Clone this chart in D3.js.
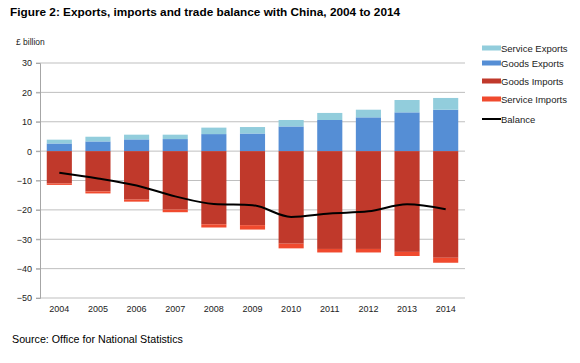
<!DOCTYPE html>
<html>
<head>
<meta charset="utf-8">
<script src="https://cdn.jsdelivr.net/npm/d3@7"></script>
<style>
  body { margin: 0; background: #fff; }
  text { font-family: "Liberation Sans", Arial, sans-serif; }
</style>
</head>
<body>
<div id="chart"></div>
<script>
// data (£ billion)
let years = ["2004", "2005", "2006", "2007", "2008", "2009", "2010", "2011", "2012", "2013", "2014"];
let goodsExports   = [2.6, 3.3, 4.0, 4.1, 5.8, 6.0, 8.4, 10.6, 11.5, 13.2, 14.1];
let serviceExports = [1.3, 1.6, 1.6, 1.5, 2.2, 2.2, 2.2, 2.4, 2.6, 4.2, 4.0];
let goodsImports   = [-11.0, -13.7, -16.5, -19.9, -24.9, -25.2, -31.5, -33.3, -33.3, -34.3, -36.3];
let serviceImports = [-0.5, -0.7, -0.7, -0.9, -1.1, -1.5, -1.6, -1.2, -1.2, -1.4, -1.7];
let balance        = [-7.4, -9.3, -11.7, -15.4, -18.0, -18.4, -22.4, -21.2, -20.5, -18.1, -19.8];
let yTicks = [30, 20, 10, 0, -10, -20, -30, -40, -50];

let colors = {
    serviceExports: "#92cddc",
    goodsExports: "#558ed5",
    goodsImports: "#c0392b",
    serviceImports: "#f04a2e",
    balance: "#000000"
};

let svgWidth = 580;
let svgHeight = 363;
let margin = { top: 63, left: 40, right: 115, bottom: 65 };

let svg = d3.select("#chart")
    .append("svg")
    .attr("width", svgWidth)
    .attr("height", svgHeight);

let xScale = d3.scaleBand()
    .domain(years)
    .range([margin.left, svgWidth - margin.right])
    .paddingInner(0.35)
    .paddingOuter(0.175);

let yScale = d3.scaleLinear()
    .domain([-50, 30])
    .range([svgHeight - margin.bottom, margin.top]);

// title
svg.append("text")
    .attr("x", 10)
    .attr("y", 16)
    .attr("font-size", "11.8px")
    .attr("font-weight", "bold")
    .attr("fill", "#000")
    .text("Figure 2: Exports, imports and trade balance with China, 2004 to 2014");

svg.append("text")
    .attr("x", 16)
    .attr("y", 45)
    .attr("font-size", "8.5px")
    .attr("fill", "#222")
    .text("£ billion");

// gridlines
svg.append("g")
    .selectAll("line")
    .data(yTicks)
    .enter()
    .append("line")
    .attr("x1", margin.left - 4)
    .attr("x2", svgWidth - margin.right)
    .attr("y1", d => yScale(d))
    .attr("y2", d => yScale(d))
    .attr("stroke", "#bfbfbf")
    .attr("stroke-width", 1);

// y axis
let yAxis = d3.axisLeft(yScale)
    .tickValues(yTicks)
    .tickSize(4)
    .tickPadding(4);

let yAxisG = svg.append("g")
    .attr("transform", `translate(${margin.left}, 0)`)
    .call(yAxis);
yAxisG.select(".domain").attr("stroke", "#a6a6a6");
yAxisG.selectAll(".tick line").attr("stroke", "#a6a6a6");
yAxisG.selectAll("text")
    .attr("font-family", "Liberation Sans, Arial, sans-serif")
    .attr("font-size", "9px")
    .attr("fill", "#222");

// x axis labels
let xAxis = d3.axisBottom(xScale).tickSize(0).tickPadding(8);
let xAxisG = svg.append("g")
    .attr("transform", `translate(0, ${yScale(-50)})`)
    .call(xAxis);
xAxisG.select(".domain").remove();
xAxisG.selectAll("text")
    .attr("font-family", "Liberation Sans, Arial, sans-serif")
    .attr("font-size", "9px")
    .attr("fill", "#222");

// stacked bars
let bars = svg.append("g");
years.forEach(function(year, i) {
    let x = xScale(year);
    let w = xScale.bandwidth();
    let g0 = goodsExports[i];
    let s0 = g0 + serviceExports[i];
    let gi = goodsImports[i];
    let si = gi + serviceImports[i];
    let segments = [
        { y0: 0, y1: g0, c: colors.goodsExports },
        { y0: g0, y1: s0, c: colors.serviceExports },
        { y0: gi, y1: 0, c: colors.goodsImports },
        { y0: si, y1: gi, c: colors.serviceImports }
    ];
    bars.selectAll(null)
        .data(segments)
        .enter()
        .append("rect")
        .attr("x", x)
        .attr("width", w)
        .attr("y", d => yScale(d.y1))
        .attr("height", d => yScale(d.y0) - yScale(d.y1))
        .attr("fill", d => d.c);
});

// balance line
let line = d3.line()
    .x((d, i) => xScale(years[i]) + xScale.bandwidth() / 2)
    .y(d => yScale(d))
    .curve(d3.curveMonotoneX);

svg.append("path")
    .datum(balance)
    .attr("d", line)
    .attr("fill", "none")
    .attr("stroke", colors.balance)
    .attr("stroke-width", 2);

// legend
let legendItems = [
    { label: "Service Exports", c: colors.serviceExports, y: 48, h: 5 },
    { label: "Goods Exports", c: colors.goodsExports, y: 63, h: 5 },
    { label: "Goods Imports", c: colors.goodsImports, y: 81, h: 5 },
    { label: "Service Imports", c: colors.serviceImports, y: 99, h: 5 },
    { label: "Balance", c: colors.balance, y: 119, h: 2 }
];

let legend = svg.append("g");
legend.selectAll("rect")
    .data(legendItems)
    .enter()
    .append("rect")
    .attr("x", 482)
    .attr("y", d => d.y - d.h / 2)
    .attr("width", 19)
    .attr("height", d => d.h)
    .attr("fill", d => d.c);

legend.selectAll("text")
    .data(legendItems)
    .enter()
    .append("text")
    .attr("x", 501)
    .attr("y", d => d.y + 3.5)
    .attr("font-size", "9.5px")
    .attr("fill", "#222")
    .text(d => d.label);

// source
svg.append("text")
    .attr("x", 12)
    .attr("y", 343)
    .attr("font-size", "10.7px")
    .attr("fill", "#000")
    .text("Source: Office for National Statistics");
</script>
</body>
</html>
